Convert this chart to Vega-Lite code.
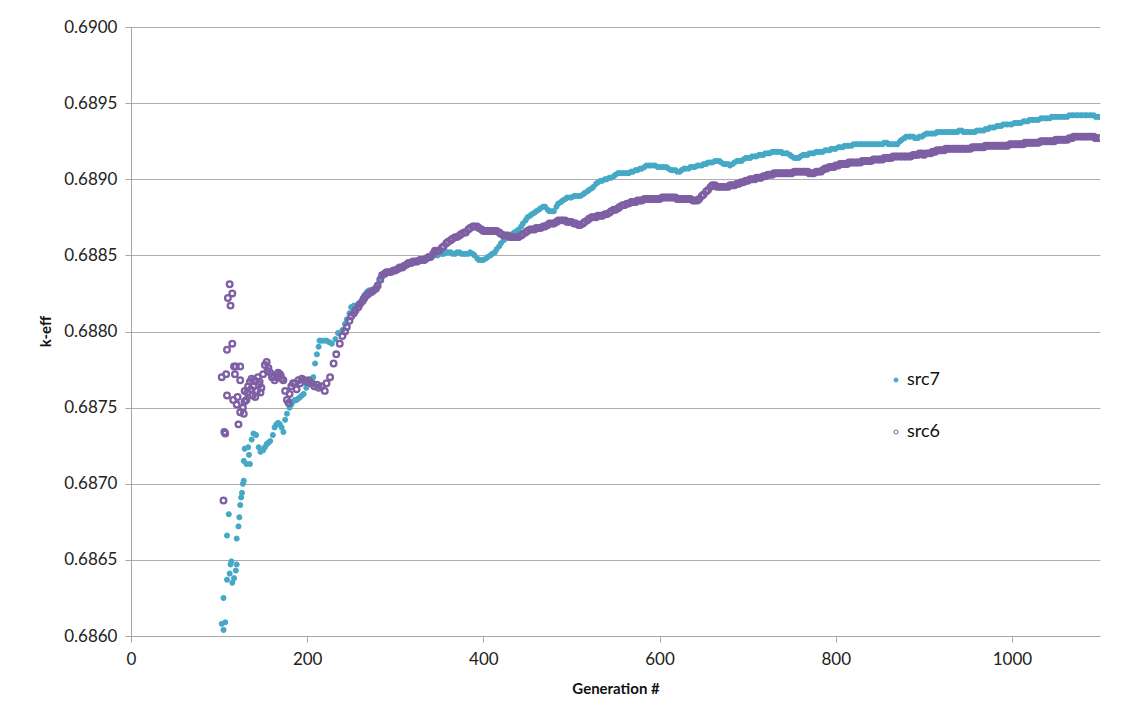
{
  "$schema": "https://vega.github.io/schema/vega-lite/v6.json",
  "width": 969,
  "height": 609,
  "autosize": {"type": "none"},
  "padding": {"left": 131, "top": 27, "right": 29, "bottom": 85},
  "background": "white",
  "config": {
    "font": "Lato",
    "view": {"stroke": null},
    "axis": {
      "labelFont": "Lato",
      "labelFontSize": 17,
      "labelColor": "#222222",
      "titleFont": "Lato",
      "titleFontSize": 15,
      "titleFontWeight": "bold",
      "titleColor": "#111111",
      "domainColor": "#A6A6A6",
      "tickColor": "#A6A6A6",
      "gridColor": "#ADADAD",
      "tickSize": 6
    },
    "legend": {"labelFont": "Lato", "labelFontSize": 18, "labelColor": "#111111", "symbolSize": 16, "symbolStrokeWidth": 1}
  },
  "data": {
    "values": [
      {"gen": 103, "src": "src7", "keff": 0.68608},
      {"gen": 105, "src": "src7", "keff": 0.68604},
      {"gen": 105, "src": "src7", "keff": 0.68625},
      {"gen": 107, "src": "src7", "keff": 0.68609},
      {"gen": 109, "src": "src7", "keff": 0.68637},
      {"gen": 109, "src": "src7", "keff": 0.68666},
      {"gen": 111, "src": "src7", "keff": 0.6868},
      {"gen": 112, "src": "src7", "keff": 0.68641},
      {"gen": 113, "src": "src7", "keff": 0.68647},
      {"gen": 114, "src": "src7", "keff": 0.68649},
      {"gen": 115, "src": "src7", "keff": 0.68635},
      {"gen": 117, "src": "src7", "keff": 0.68638},
      {"gen": 119, "src": "src7", "keff": 0.68643},
      {"gen": 120, "src": "src7", "keff": 0.68647},
      {"gen": 120, "src": "src7", "keff": 0.68664},
      {"gen": 122, "src": "src7", "keff": 0.68672},
      {"gen": 123, "src": "src7", "keff": 0.68678},
      {"gen": 124, "src": "src7", "keff": 0.68686},
      {"gen": 125, "src": "src7", "keff": 0.68691},
      {"gen": 126, "src": "src7", "keff": 0.68694},
      {"gen": 127, "src": "src7", "keff": 0.687},
      {"gen": 128, "src": "src7", "keff": 0.68702},
      {"gen": 128, "src": "src7", "keff": 0.68715},
      {"gen": 129, "src": "src7", "keff": 0.68723},
      {"gen": 131, "src": "src7", "keff": 0.68713},
      {"gen": 133, "src": "src7", "keff": 0.68724},
      {"gen": 134, "src": "src7", "keff": 0.68719},
      {"gen": 135, "src": "src7", "keff": 0.68713},
      {"gen": 137, "src": "src7", "keff": 0.68729},
      {"gen": 139, "src": "src7", "keff": 0.68733},
      {"gen": 142, "src": "src7", "keff": 0.68732},
      {"gen": 145, "src": "src7", "keff": 0.68724},
      {"gen": 147, "src": "src7", "keff": 0.68721},
      {"gen": 150, "src": "src7", "keff": 0.68722},
      {"gen": 152, "src": "src7", "keff": 0.68724},
      {"gen": 154, "src": "src7", "keff": 0.68726},
      {"gen": 156, "src": "src7", "keff": 0.68727},
      {"gen": 158, "src": "src7", "keff": 0.68728},
      {"gen": 161, "src": "src7", "keff": 0.68732},
      {"gen": 163, "src": "src7", "keff": 0.68737},
      {"gen": 165, "src": "src7", "keff": 0.68739},
      {"gen": 167, "src": "src7", "keff": 0.6874},
      {"gen": 169, "src": "src7", "keff": 0.68739},
      {"gen": 171, "src": "src7", "keff": 0.68737},
      {"gen": 173, "src": "src7", "keff": 0.68734},
      {"gen": 175, "src": "src7", "keff": 0.68742},
      {"gen": 177, "src": "src7", "keff": 0.68746},
      {"gen": 180, "src": "src7", "keff": 0.6875},
      {"gen": 182, "src": "src7", "keff": 0.68752},
      {"gen": 184, "src": "src7", "keff": 0.68754},
      {"gen": 186, "src": "src7", "keff": 0.68755},
      {"gen": 188, "src": "src7", "keff": 0.68755},
      {"gen": 190, "src": "src7", "keff": 0.68756},
      {"gen": 192, "src": "src7", "keff": 0.68757},
      {"gen": 194, "src": "src7", "keff": 0.68758},
      {"gen": 196, "src": "src7", "keff": 0.68759},
      {"gen": 199, "src": "src7", "keff": 0.68763},
      {"gen": 201, "src": "src7", "keff": 0.68765},
      {"gen": 203, "src": "src7", "keff": 0.68766},
      {"gen": 205, "src": "src7", "keff": 0.68768},
      {"gen": 207, "src": "src7", "keff": 0.6877},
      {"gen": 209, "src": "src7", "keff": 0.68779},
      {"gen": 211, "src": "src7", "keff": 0.68785},
      {"gen": 213, "src": "src7", "keff": 0.6879},
      {"gen": 214, "src": "src7", "keff": 0.68794},
      {"gen": 216, "src": "src7", "keff": 0.68794},
      {"gen": 219, "src": "src7", "keff": 0.68794},
      {"gen": 222, "src": "src7", "keff": 0.68794},
      {"gen": 225, "src": "src7", "keff": 0.68793},
      {"gen": 228, "src": "src7", "keff": 0.68792},
      {"gen": 232, "src": "src7", "keff": 0.68795},
      {"gen": 235, "src": "src7", "keff": 0.68799},
      {"gen": 240, "src": "src7", "keff": 0.68801},
      {"gen": 243, "src": "src7", "keff": 0.68805},
      {"gen": 245, "src": "src7", "keff": 0.68808},
      {"gen": 248, "src": "src7", "keff": 0.68812},
      {"gen": 250, "src": "src7", "keff": 0.68816},
      {"gen": 253, "src": "src7", "keff": 0.68817},
      {"gen": 255, "src": "src7", "keff": 0.68817},
      {"gen": 258, "src": "src7", "keff": 0.68818},
      {"gen": 260, "src": "src7", "keff": 0.68819},
      {"gen": 263, "src": "src7", "keff": 0.68822},
      {"gen": 265, "src": "src7", "keff": 0.68824},
      {"gen": 268, "src": "src7", "keff": 0.68826},
      {"gen": 270, "src": "src7", "keff": 0.68827},
      {"gen": 273, "src": "src7", "keff": 0.68827},
      {"gen": 275, "src": "src7", "keff": 0.68827},
      {"gen": 278, "src": "src7", "keff": 0.68829},
      {"gen": 280, "src": "src7", "keff": 0.68831},
      {"gen": 283, "src": "src7", "keff": 0.68834},
      {"gen": 285, "src": "src7", "keff": 0.68837},
      {"gen": 288, "src": "src7", "keff": 0.68838},
      {"gen": 290, "src": "src7", "keff": 0.68839},
      {"gen": 293, "src": "src7", "keff": 0.68839},
      {"gen": 295, "src": "src7", "keff": 0.68839},
      {"gen": 298, "src": "src7", "keff": 0.6884},
      {"gen": 300, "src": "src7", "keff": 0.6884},
      {"gen": 303, "src": "src7", "keff": 0.68841},
      {"gen": 305, "src": "src7", "keff": 0.68842},
      {"gen": 308, "src": "src7", "keff": 0.68842},
      {"gen": 310, "src": "src7", "keff": 0.68843},
      {"gen": 313, "src": "src7", "keff": 0.68844},
      {"gen": 315, "src": "src7", "keff": 0.68845},
      {"gen": 318, "src": "src7", "keff": 0.68845},
      {"gen": 320, "src": "src7", "keff": 0.68845},
      {"gen": 323, "src": "src7", "keff": 0.68846},
      {"gen": 325, "src": "src7", "keff": 0.68846},
      {"gen": 328, "src": "src7", "keff": 0.68847},
      {"gen": 330, "src": "src7", "keff": 0.68847},
      {"gen": 333, "src": "src7", "keff": 0.68847},
      {"gen": 335, "src": "src7", "keff": 0.68848},
      {"gen": 338, "src": "src7", "keff": 0.68848},
      {"gen": 340, "src": "src7", "keff": 0.68849},
      {"gen": 343, "src": "src7", "keff": 0.6885},
      {"gen": 345, "src": "src7", "keff": 0.6885},
      {"gen": 348, "src": "src7", "keff": 0.6885},
      {"gen": 350, "src": "src7", "keff": 0.68851},
      {"gen": 353, "src": "src7", "keff": 0.68851},
      {"gen": 355, "src": "src7", "keff": 0.68851},
      {"gen": 358, "src": "src7", "keff": 0.68852},
      {"gen": 360, "src": "src7", "keff": 0.68852},
      {"gen": 363, "src": "src7", "keff": 0.68852},
      {"gen": 365, "src": "src7", "keff": 0.68851},
      {"gen": 368, "src": "src7", "keff": 0.68851},
      {"gen": 370, "src": "src7", "keff": 0.68852},
      {"gen": 373, "src": "src7", "keff": 0.68852},
      {"gen": 375, "src": "src7", "keff": 0.68851},
      {"gen": 378, "src": "src7", "keff": 0.68851},
      {"gen": 380, "src": "src7", "keff": 0.68851},
      {"gen": 383, "src": "src7", "keff": 0.68851},
      {"gen": 385, "src": "src7", "keff": 0.68852},
      {"gen": 388, "src": "src7", "keff": 0.68851},
      {"gen": 390, "src": "src7", "keff": 0.6885},
      {"gen": 393, "src": "src7", "keff": 0.68848},
      {"gen": 395, "src": "src7", "keff": 0.68847},
      {"gen": 398, "src": "src7", "keff": 0.68847},
      {"gen": 400, "src": "src7", "keff": 0.68847},
      {"gen": 403, "src": "src7", "keff": 0.68848},
      {"gen": 405, "src": "src7", "keff": 0.68849},
      {"gen": 408, "src": "src7", "keff": 0.6885},
      {"gen": 410, "src": "src7", "keff": 0.68851},
      {"gen": 413, "src": "src7", "keff": 0.68852},
      {"gen": 415, "src": "src7", "keff": 0.68854},
      {"gen": 418, "src": "src7", "keff": 0.68856},
      {"gen": 420, "src": "src7", "keff": 0.68858},
      {"gen": 423, "src": "src7", "keff": 0.6886},
      {"gen": 425, "src": "src7", "keff": 0.68861},
      {"gen": 428, "src": "src7", "keff": 0.68862},
      {"gen": 430, "src": "src7", "keff": 0.68863},
      {"gen": 433, "src": "src7", "keff": 0.68864},
      {"gen": 435, "src": "src7", "keff": 0.68865},
      {"gen": 438, "src": "src7", "keff": 0.68866},
      {"gen": 440, "src": "src7", "keff": 0.68867},
      {"gen": 443, "src": "src7", "keff": 0.68869},
      {"gen": 445, "src": "src7", "keff": 0.68871},
      {"gen": 448, "src": "src7", "keff": 0.68873},
      {"gen": 450, "src": "src7", "keff": 0.68875},
      {"gen": 453, "src": "src7", "keff": 0.68876},
      {"gen": 455, "src": "src7", "keff": 0.68877},
      {"gen": 458, "src": "src7", "keff": 0.68878},
      {"gen": 460, "src": "src7", "keff": 0.68879},
      {"gen": 463, "src": "src7", "keff": 0.6888},
      {"gen": 465, "src": "src7", "keff": 0.68881},
      {"gen": 468, "src": "src7", "keff": 0.68882},
      {"gen": 470, "src": "src7", "keff": 0.68882},
      {"gen": 473, "src": "src7", "keff": 0.6888},
      {"gen": 475, "src": "src7", "keff": 0.68879},
      {"gen": 478, "src": "src7", "keff": 0.68879},
      {"gen": 480, "src": "src7", "keff": 0.68879},
      {"gen": 483, "src": "src7", "keff": 0.68882},
      {"gen": 485, "src": "src7", "keff": 0.68884},
      {"gen": 488, "src": "src7", "keff": 0.68885},
      {"gen": 490, "src": "src7", "keff": 0.68886},
      {"gen": 493, "src": "src7", "keff": 0.68887},
      {"gen": 495, "src": "src7", "keff": 0.68888},
      {"gen": 498, "src": "src7", "keff": 0.68888},
      {"gen": 500, "src": "src7", "keff": 0.68888},
      {"gen": 503, "src": "src7", "keff": 0.68889},
      {"gen": 505, "src": "src7", "keff": 0.68889},
      {"gen": 508, "src": "src7", "keff": 0.68889},
      {"gen": 510, "src": "src7", "keff": 0.68889},
      {"gen": 513, "src": "src7", "keff": 0.6889},
      {"gen": 515, "src": "src7", "keff": 0.68891},
      {"gen": 518, "src": "src7", "keff": 0.68892},
      {"gen": 520, "src": "src7", "keff": 0.68893},
      {"gen": 523, "src": "src7", "keff": 0.68894},
      {"gen": 525, "src": "src7", "keff": 0.68895},
      {"gen": 528, "src": "src7", "keff": 0.68897},
      {"gen": 530, "src": "src7", "keff": 0.68898},
      {"gen": 533, "src": "src7", "keff": 0.68899},
      {"gen": 535, "src": "src7", "keff": 0.68899},
      {"gen": 538, "src": "src7", "keff": 0.689},
      {"gen": 540, "src": "src7", "keff": 0.689},
      {"gen": 543, "src": "src7", "keff": 0.68901},
      {"gen": 545, "src": "src7", "keff": 0.68901},
      {"gen": 548, "src": "src7", "keff": 0.68902},
      {"gen": 550, "src": "src7", "keff": 0.68903},
      {"gen": 553, "src": "src7", "keff": 0.68904},
      {"gen": 555, "src": "src7", "keff": 0.68904},
      {"gen": 558, "src": "src7", "keff": 0.68904},
      {"gen": 560, "src": "src7", "keff": 0.68904},
      {"gen": 563, "src": "src7", "keff": 0.68904},
      {"gen": 565, "src": "src7", "keff": 0.68904},
      {"gen": 568, "src": "src7", "keff": 0.68905},
      {"gen": 570, "src": "src7", "keff": 0.68905},
      {"gen": 573, "src": "src7", "keff": 0.68906},
      {"gen": 575, "src": "src7", "keff": 0.68906},
      {"gen": 578, "src": "src7", "keff": 0.68907},
      {"gen": 580, "src": "src7", "keff": 0.68907},
      {"gen": 583, "src": "src7", "keff": 0.68908},
      {"gen": 585, "src": "src7", "keff": 0.68909},
      {"gen": 588, "src": "src7", "keff": 0.68909},
      {"gen": 590, "src": "src7", "keff": 0.68909},
      {"gen": 593, "src": "src7", "keff": 0.68909},
      {"gen": 595, "src": "src7", "keff": 0.68909},
      {"gen": 598, "src": "src7", "keff": 0.68908},
      {"gen": 600, "src": "src7", "keff": 0.68908},
      {"gen": 603, "src": "src7", "keff": 0.68908},
      {"gen": 605, "src": "src7", "keff": 0.68908},
      {"gen": 608, "src": "src7", "keff": 0.68908},
      {"gen": 610, "src": "src7", "keff": 0.68907},
      {"gen": 613, "src": "src7", "keff": 0.68906},
      {"gen": 615, "src": "src7", "keff": 0.68906},
      {"gen": 618, "src": "src7", "keff": 0.68906},
      {"gen": 620, "src": "src7", "keff": 0.68905},
      {"gen": 623, "src": "src7", "keff": 0.68905},
      {"gen": 625, "src": "src7", "keff": 0.68906},
      {"gen": 628, "src": "src7", "keff": 0.68907},
      {"gen": 630, "src": "src7", "keff": 0.68907},
      {"gen": 633, "src": "src7", "keff": 0.68907},
      {"gen": 635, "src": "src7", "keff": 0.68908},
      {"gen": 638, "src": "src7", "keff": 0.68908},
      {"gen": 640, "src": "src7", "keff": 0.68908},
      {"gen": 643, "src": "src7", "keff": 0.68909},
      {"gen": 645, "src": "src7", "keff": 0.68909},
      {"gen": 648, "src": "src7", "keff": 0.68909},
      {"gen": 650, "src": "src7", "keff": 0.6891},
      {"gen": 653, "src": "src7", "keff": 0.6891},
      {"gen": 655, "src": "src7", "keff": 0.68911},
      {"gen": 658, "src": "src7", "keff": 0.68911},
      {"gen": 660, "src": "src7", "keff": 0.68911},
      {"gen": 663, "src": "src7", "keff": 0.68912},
      {"gen": 665, "src": "src7", "keff": 0.68912},
      {"gen": 668, "src": "src7", "keff": 0.68912},
      {"gen": 670, "src": "src7", "keff": 0.68911},
      {"gen": 673, "src": "src7", "keff": 0.6891},
      {"gen": 675, "src": "src7", "keff": 0.6891},
      {"gen": 678, "src": "src7", "keff": 0.6891},
      {"gen": 680, "src": "src7", "keff": 0.68909},
      {"gen": 683, "src": "src7", "keff": 0.6891},
      {"gen": 685, "src": "src7", "keff": 0.68911},
      {"gen": 688, "src": "src7", "keff": 0.68912},
      {"gen": 690, "src": "src7", "keff": 0.68912},
      {"gen": 693, "src": "src7", "keff": 0.68912},
      {"gen": 695, "src": "src7", "keff": 0.68913},
      {"gen": 698, "src": "src7", "keff": 0.68914},
      {"gen": 700, "src": "src7", "keff": 0.68914},
      {"gen": 703, "src": "src7", "keff": 0.68914},
      {"gen": 705, "src": "src7", "keff": 0.68915},
      {"gen": 708, "src": "src7", "keff": 0.68915},
      {"gen": 710, "src": "src7", "keff": 0.68915},
      {"gen": 713, "src": "src7", "keff": 0.68916},
      {"gen": 715, "src": "src7", "keff": 0.68916},
      {"gen": 718, "src": "src7", "keff": 0.68916},
      {"gen": 720, "src": "src7", "keff": 0.68917},
      {"gen": 723, "src": "src7", "keff": 0.68917},
      {"gen": 725, "src": "src7", "keff": 0.68917},
      {"gen": 728, "src": "src7", "keff": 0.68918},
      {"gen": 730, "src": "src7", "keff": 0.68918},
      {"gen": 733, "src": "src7", "keff": 0.68918},
      {"gen": 735, "src": "src7", "keff": 0.68918},
      {"gen": 738, "src": "src7", "keff": 0.68918},
      {"gen": 740, "src": "src7", "keff": 0.68917},
      {"gen": 743, "src": "src7", "keff": 0.68917},
      {"gen": 745, "src": "src7", "keff": 0.68917},
      {"gen": 748, "src": "src7", "keff": 0.68916},
      {"gen": 750, "src": "src7", "keff": 0.68915},
      {"gen": 753, "src": "src7", "keff": 0.68914},
      {"gen": 755, "src": "src7", "keff": 0.68914},
      {"gen": 758, "src": "src7", "keff": 0.68914},
      {"gen": 760, "src": "src7", "keff": 0.68915},
      {"gen": 763, "src": "src7", "keff": 0.68916},
      {"gen": 765, "src": "src7", "keff": 0.68916},
      {"gen": 768, "src": "src7", "keff": 0.68916},
      {"gen": 770, "src": "src7", "keff": 0.68917},
      {"gen": 773, "src": "src7", "keff": 0.68917},
      {"gen": 775, "src": "src7", "keff": 0.68917},
      {"gen": 778, "src": "src7", "keff": 0.68918},
      {"gen": 780, "src": "src7", "keff": 0.68918},
      {"gen": 783, "src": "src7", "keff": 0.68918},
      {"gen": 785, "src": "src7", "keff": 0.68918},
      {"gen": 788, "src": "src7", "keff": 0.68919},
      {"gen": 790, "src": "src7", "keff": 0.68919},
      {"gen": 793, "src": "src7", "keff": 0.68919},
      {"gen": 795, "src": "src7", "keff": 0.6892},
      {"gen": 798, "src": "src7", "keff": 0.6892},
      {"gen": 800, "src": "src7", "keff": 0.6892},
      {"gen": 803, "src": "src7", "keff": 0.68921},
      {"gen": 805, "src": "src7", "keff": 0.68921},
      {"gen": 808, "src": "src7", "keff": 0.68921},
      {"gen": 810, "src": "src7", "keff": 0.68922},
      {"gen": 813, "src": "src7", "keff": 0.68922},
      {"gen": 815, "src": "src7", "keff": 0.68922},
      {"gen": 818, "src": "src7", "keff": 0.68922},
      {"gen": 820, "src": "src7", "keff": 0.68923},
      {"gen": 823, "src": "src7", "keff": 0.68923},
      {"gen": 825, "src": "src7", "keff": 0.68923},
      {"gen": 828, "src": "src7", "keff": 0.68923},
      {"gen": 830, "src": "src7", "keff": 0.68923},
      {"gen": 833, "src": "src7", "keff": 0.68923},
      {"gen": 835, "src": "src7", "keff": 0.68923},
      {"gen": 838, "src": "src7", "keff": 0.68923},
      {"gen": 840, "src": "src7", "keff": 0.68923},
      {"gen": 843, "src": "src7", "keff": 0.68923},
      {"gen": 845, "src": "src7", "keff": 0.68923},
      {"gen": 848, "src": "src7", "keff": 0.68923},
      {"gen": 850, "src": "src7", "keff": 0.68923},
      {"gen": 853, "src": "src7", "keff": 0.68923},
      {"gen": 855, "src": "src7", "keff": 0.68924},
      {"gen": 858, "src": "src7", "keff": 0.68924},
      {"gen": 860, "src": "src7", "keff": 0.68923},
      {"gen": 863, "src": "src7", "keff": 0.68923},
      {"gen": 865, "src": "src7", "keff": 0.68923},
      {"gen": 868, "src": "src7", "keff": 0.68923},
      {"gen": 870, "src": "src7", "keff": 0.68923},
      {"gen": 873, "src": "src7", "keff": 0.68925},
      {"gen": 875, "src": "src7", "keff": 0.68926},
      {"gen": 878, "src": "src7", "keff": 0.68927},
      {"gen": 880, "src": "src7", "keff": 0.68928},
      {"gen": 883, "src": "src7", "keff": 0.68928},
      {"gen": 885, "src": "src7", "keff": 0.68928},
      {"gen": 888, "src": "src7", "keff": 0.68928},
      {"gen": 890, "src": "src7", "keff": 0.68927},
      {"gen": 893, "src": "src7", "keff": 0.68927},
      {"gen": 895, "src": "src7", "keff": 0.68928},
      {"gen": 898, "src": "src7", "keff": 0.68928},
      {"gen": 900, "src": "src7", "keff": 0.68929},
      {"gen": 903, "src": "src7", "keff": 0.6893},
      {"gen": 905, "src": "src7", "keff": 0.6893},
      {"gen": 908, "src": "src7", "keff": 0.6893},
      {"gen": 910, "src": "src7", "keff": 0.6893},
      {"gen": 913, "src": "src7", "keff": 0.6893},
      {"gen": 915, "src": "src7", "keff": 0.68931},
      {"gen": 918, "src": "src7", "keff": 0.68931},
      {"gen": 920, "src": "src7", "keff": 0.68931},
      {"gen": 923, "src": "src7", "keff": 0.68931},
      {"gen": 925, "src": "src7", "keff": 0.68931},
      {"gen": 928, "src": "src7", "keff": 0.68931},
      {"gen": 930, "src": "src7", "keff": 0.68931},
      {"gen": 933, "src": "src7", "keff": 0.68931},
      {"gen": 935, "src": "src7", "keff": 0.68931},
      {"gen": 938, "src": "src7", "keff": 0.68931},
      {"gen": 940, "src": "src7", "keff": 0.68932},
      {"gen": 943, "src": "src7", "keff": 0.68932},
      {"gen": 945, "src": "src7", "keff": 0.68931},
      {"gen": 948, "src": "src7", "keff": 0.68931},
      {"gen": 950, "src": "src7", "keff": 0.68931},
      {"gen": 953, "src": "src7", "keff": 0.68931},
      {"gen": 955, "src": "src7", "keff": 0.68931},
      {"gen": 958, "src": "src7", "keff": 0.68931},
      {"gen": 960, "src": "src7", "keff": 0.68932},
      {"gen": 963, "src": "src7", "keff": 0.68932},
      {"gen": 965, "src": "src7", "keff": 0.68932},
      {"gen": 968, "src": "src7", "keff": 0.68932},
      {"gen": 970, "src": "src7", "keff": 0.68933},
      {"gen": 973, "src": "src7", "keff": 0.68933},
      {"gen": 975, "src": "src7", "keff": 0.68934},
      {"gen": 978, "src": "src7", "keff": 0.68934},
      {"gen": 980, "src": "src7", "keff": 0.68934},
      {"gen": 983, "src": "src7", "keff": 0.68935},
      {"gen": 985, "src": "src7", "keff": 0.68935},
      {"gen": 988, "src": "src7", "keff": 0.68935},
      {"gen": 990, "src": "src7", "keff": 0.68936},
      {"gen": 993, "src": "src7", "keff": 0.68936},
      {"gen": 995, "src": "src7", "keff": 0.68936},
      {"gen": 998, "src": "src7", "keff": 0.68936},
      {"gen": 1000, "src": "src7", "keff": 0.68936},
      {"gen": 1003, "src": "src7", "keff": 0.68937},
      {"gen": 1005, "src": "src7", "keff": 0.68937},
      {"gen": 1008, "src": "src7", "keff": 0.68937},
      {"gen": 1010, "src": "src7", "keff": 0.68937},
      {"gen": 1013, "src": "src7", "keff": 0.68938},
      {"gen": 1015, "src": "src7", "keff": 0.68938},
      {"gen": 1018, "src": "src7", "keff": 0.68938},
      {"gen": 1020, "src": "src7", "keff": 0.68939},
      {"gen": 1023, "src": "src7", "keff": 0.68939},
      {"gen": 1025, "src": "src7", "keff": 0.68939},
      {"gen": 1028, "src": "src7", "keff": 0.68939},
      {"gen": 1030, "src": "src7", "keff": 0.68939},
      {"gen": 1033, "src": "src7", "keff": 0.6894},
      {"gen": 1035, "src": "src7", "keff": 0.6894},
      {"gen": 1038, "src": "src7", "keff": 0.6894},
      {"gen": 1040, "src": "src7", "keff": 0.6894},
      {"gen": 1043, "src": "src7", "keff": 0.6894},
      {"gen": 1045, "src": "src7", "keff": 0.68941},
      {"gen": 1048, "src": "src7", "keff": 0.68941},
      {"gen": 1050, "src": "src7", "keff": 0.68941},
      {"gen": 1053, "src": "src7", "keff": 0.68941},
      {"gen": 1055, "src": "src7", "keff": 0.68941},
      {"gen": 1058, "src": "src7", "keff": 0.68941},
      {"gen": 1060, "src": "src7", "keff": 0.68941},
      {"gen": 1063, "src": "src7", "keff": 0.68941},
      {"gen": 1065, "src": "src7", "keff": 0.68942},
      {"gen": 1068, "src": "src7", "keff": 0.68942},
      {"gen": 1070, "src": "src7", "keff": 0.68942},
      {"gen": 1073, "src": "src7", "keff": 0.68942},
      {"gen": 1075, "src": "src7", "keff": 0.68942},
      {"gen": 1078, "src": "src7", "keff": 0.68942},
      {"gen": 1080, "src": "src7", "keff": 0.68942},
      {"gen": 1083, "src": "src7", "keff": 0.68942},
      {"gen": 1085, "src": "src7", "keff": 0.68942},
      {"gen": 1088, "src": "src7", "keff": 0.68942},
      {"gen": 1090, "src": "src7", "keff": 0.68942},
      {"gen": 1093, "src": "src7", "keff": 0.68942},
      {"gen": 1095, "src": "src7", "keff": 0.68941},
      {"gen": 1098, "src": "src7", "keff": 0.68941},
      {"gen": 1100, "src": "src7", "keff": 0.68941},
      {"gen": 103, "src": "src6", "keff": 0.6877},
      {"gen": 105, "src": "src6", "keff": 0.68689},
      {"gen": 106, "src": "src6", "keff": 0.68734},
      {"gen": 107, "src": "src6", "keff": 0.68733},
      {"gen": 108, "src": "src6", "keff": 0.68772},
      {"gen": 109, "src": "src6", "keff": 0.68758},
      {"gen": 109, "src": "src6", "keff": 0.68788},
      {"gen": 110, "src": "src6", "keff": 0.68822},
      {"gen": 112, "src": "src6", "keff": 0.68831},
      {"gen": 113, "src": "src6", "keff": 0.68817},
      {"gen": 115, "src": "src6", "keff": 0.68825},
      {"gen": 115, "src": "src6", "keff": 0.68792},
      {"gen": 116, "src": "src6", "keff": 0.68755},
      {"gen": 117, "src": "src6", "keff": 0.68777},
      {"gen": 118, "src": "src6", "keff": 0.68772},
      {"gen": 119, "src": "src6", "keff": 0.68777},
      {"gen": 120, "src": "src6", "keff": 0.68752},
      {"gen": 121, "src": "src6", "keff": 0.68757},
      {"gen": 122, "src": "src6", "keff": 0.68739},
      {"gen": 124, "src": "src6", "keff": 0.68777},
      {"gen": 124, "src": "src6", "keff": 0.68768},
      {"gen": 124, "src": "src6", "keff": 0.68747},
      {"gen": 127, "src": "src6", "keff": 0.6875},
      {"gen": 128, "src": "src6", "keff": 0.68746},
      {"gen": 129, "src": "src6", "keff": 0.68754},
      {"gen": 129, "src": "src6", "keff": 0.68761},
      {"gen": 131, "src": "src6", "keff": 0.68755},
      {"gen": 132, "src": "src6", "keff": 0.6876},
      {"gen": 133, "src": "src6", "keff": 0.68764},
      {"gen": 135, "src": "src6", "keff": 0.68767},
      {"gen": 136, "src": "src6", "keff": 0.68762},
      {"gen": 137, "src": "src6", "keff": 0.68769},
      {"gen": 138, "src": "src6", "keff": 0.68758},
      {"gen": 139, "src": "src6", "keff": 0.68764},
      {"gen": 140, "src": "src6", "keff": 0.68768},
      {"gen": 141, "src": "src6", "keff": 0.68757},
      {"gen": 143, "src": "src6", "keff": 0.68761},
      {"gen": 144, "src": "src6", "keff": 0.6877},
      {"gen": 145, "src": "src6", "keff": 0.68765},
      {"gen": 146, "src": "src6", "keff": 0.68767},
      {"gen": 147, "src": "src6", "keff": 0.6876},
      {"gen": 148, "src": "src6", "keff": 0.68763},
      {"gen": 150, "src": "src6", "keff": 0.68772},
      {"gen": 152, "src": "src6", "keff": 0.68778},
      {"gen": 154, "src": "src6", "keff": 0.6878},
      {"gen": 155, "src": "src6", "keff": 0.68774},
      {"gen": 156, "src": "src6", "keff": 0.68776},
      {"gen": 158, "src": "src6", "keff": 0.68773},
      {"gen": 160, "src": "src6", "keff": 0.6877},
      {"gen": 162, "src": "src6", "keff": 0.68771},
      {"gen": 163, "src": "src6", "keff": 0.68768},
      {"gen": 165, "src": "src6", "keff": 0.6877},
      {"gen": 167, "src": "src6", "keff": 0.68773},
      {"gen": 169, "src": "src6", "keff": 0.68772},
      {"gen": 170, "src": "src6", "keff": 0.68771},
      {"gen": 171, "src": "src6", "keff": 0.68769},
      {"gen": 173, "src": "src6", "keff": 0.68768},
      {"gen": 175, "src": "src6", "keff": 0.68761},
      {"gen": 177, "src": "src6", "keff": 0.68755},
      {"gen": 179, "src": "src6", "keff": 0.68753},
      {"gen": 180, "src": "src6", "keff": 0.68759},
      {"gen": 182, "src": "src6", "keff": 0.68764},
      {"gen": 184, "src": "src6", "keff": 0.68766},
      {"gen": 186, "src": "src6", "keff": 0.68766},
      {"gen": 188, "src": "src6", "keff": 0.68762},
      {"gen": 190, "src": "src6", "keff": 0.68768},
      {"gen": 192, "src": "src6", "keff": 0.68766},
      {"gen": 194, "src": "src6", "keff": 0.68769},
      {"gen": 197, "src": "src6", "keff": 0.68768},
      {"gen": 199, "src": "src6", "keff": 0.68767},
      {"gen": 202, "src": "src6", "keff": 0.68768},
      {"gen": 205, "src": "src6", "keff": 0.68766},
      {"gen": 208, "src": "src6", "keff": 0.68764},
      {"gen": 211, "src": "src6", "keff": 0.68765},
      {"gen": 213, "src": "src6", "keff": 0.68763},
      {"gen": 216, "src": "src6", "keff": 0.68764},
      {"gen": 220, "src": "src6", "keff": 0.68761},
      {"gen": 222, "src": "src6", "keff": 0.68766},
      {"gen": 226, "src": "src6", "keff": 0.6877},
      {"gen": 230, "src": "src6", "keff": 0.68779},
      {"gen": 233, "src": "src6", "keff": 0.68785},
      {"gen": 237, "src": "src6", "keff": 0.68792},
      {"gen": 240, "src": "src6", "keff": 0.68797},
      {"gen": 243, "src": "src6", "keff": 0.688},
      {"gen": 245, "src": "src6", "keff": 0.68803},
      {"gen": 248, "src": "src6", "keff": 0.68807},
      {"gen": 250, "src": "src6", "keff": 0.6881},
      {"gen": 253, "src": "src6", "keff": 0.68812},
      {"gen": 255, "src": "src6", "keff": 0.68814},
      {"gen": 258, "src": "src6", "keff": 0.68816},
      {"gen": 260, "src": "src6", "keff": 0.68818},
      {"gen": 263, "src": "src6", "keff": 0.6882},
      {"gen": 265, "src": "src6", "keff": 0.68822},
      {"gen": 268, "src": "src6", "keff": 0.68824},
      {"gen": 270, "src": "src6", "keff": 0.68825},
      {"gen": 273, "src": "src6", "keff": 0.68826},
      {"gen": 275, "src": "src6", "keff": 0.68827},
      {"gen": 278, "src": "src6", "keff": 0.68828},
      {"gen": 280, "src": "src6", "keff": 0.6883},
      {"gen": 283, "src": "src6", "keff": 0.68834},
      {"gen": 285, "src": "src6", "keff": 0.68837},
      {"gen": 288, "src": "src6", "keff": 0.68838},
      {"gen": 290, "src": "src6", "keff": 0.68839},
      {"gen": 293, "src": "src6", "keff": 0.68839},
      {"gen": 295, "src": "src6", "keff": 0.68839},
      {"gen": 298, "src": "src6", "keff": 0.6884},
      {"gen": 300, "src": "src6", "keff": 0.6884},
      {"gen": 303, "src": "src6", "keff": 0.68841},
      {"gen": 305, "src": "src6", "keff": 0.68842},
      {"gen": 308, "src": "src6", "keff": 0.68842},
      {"gen": 310, "src": "src6", "keff": 0.68843},
      {"gen": 313, "src": "src6", "keff": 0.68844},
      {"gen": 315, "src": "src6", "keff": 0.68845},
      {"gen": 318, "src": "src6", "keff": 0.68845},
      {"gen": 320, "src": "src6", "keff": 0.68846},
      {"gen": 323, "src": "src6", "keff": 0.68846},
      {"gen": 325, "src": "src6", "keff": 0.68846},
      {"gen": 328, "src": "src6", "keff": 0.68847},
      {"gen": 330, "src": "src6", "keff": 0.68847},
      {"gen": 333, "src": "src6", "keff": 0.68847},
      {"gen": 335, "src": "src6", "keff": 0.68848},
      {"gen": 338, "src": "src6", "keff": 0.68849},
      {"gen": 340, "src": "src6", "keff": 0.68849},
      {"gen": 343, "src": "src6", "keff": 0.68851},
      {"gen": 345, "src": "src6", "keff": 0.68853},
      {"gen": 348, "src": "src6", "keff": 0.68853},
      {"gen": 350, "src": "src6", "keff": 0.68853},
      {"gen": 353, "src": "src6", "keff": 0.68855},
      {"gen": 355, "src": "src6", "keff": 0.68856},
      {"gen": 358, "src": "src6", "keff": 0.68858},
      {"gen": 360, "src": "src6", "keff": 0.68859},
      {"gen": 363, "src": "src6", "keff": 0.6886},
      {"gen": 365, "src": "src6", "keff": 0.68861},
      {"gen": 368, "src": "src6", "keff": 0.68862},
      {"gen": 370, "src": "src6", "keff": 0.68862},
      {"gen": 373, "src": "src6", "keff": 0.68863},
      {"gen": 375, "src": "src6", "keff": 0.68864},
      {"gen": 378, "src": "src6", "keff": 0.68865},
      {"gen": 380, "src": "src6", "keff": 0.68865},
      {"gen": 383, "src": "src6", "keff": 0.68867},
      {"gen": 385, "src": "src6", "keff": 0.68868},
      {"gen": 388, "src": "src6", "keff": 0.68869},
      {"gen": 390, "src": "src6", "keff": 0.68869},
      {"gen": 393, "src": "src6", "keff": 0.68869},
      {"gen": 395, "src": "src6", "keff": 0.68868},
      {"gen": 398, "src": "src6", "keff": 0.68867},
      {"gen": 400, "src": "src6", "keff": 0.68866},
      {"gen": 403, "src": "src6", "keff": 0.68866},
      {"gen": 405, "src": "src6", "keff": 0.68866},
      {"gen": 408, "src": "src6", "keff": 0.68866},
      {"gen": 410, "src": "src6", "keff": 0.68866},
      {"gen": 413, "src": "src6", "keff": 0.68866},
      {"gen": 415, "src": "src6", "keff": 0.68866},
      {"gen": 418, "src": "src6", "keff": 0.68865},
      {"gen": 420, "src": "src6", "keff": 0.68864},
      {"gen": 423, "src": "src6", "keff": 0.68863},
      {"gen": 425, "src": "src6", "keff": 0.68863},
      {"gen": 428, "src": "src6", "keff": 0.68863},
      {"gen": 430, "src": "src6", "keff": 0.68862},
      {"gen": 433, "src": "src6", "keff": 0.68862},
      {"gen": 435, "src": "src6", "keff": 0.68862},
      {"gen": 438, "src": "src6", "keff": 0.68862},
      {"gen": 440, "src": "src6", "keff": 0.68862},
      {"gen": 443, "src": "src6", "keff": 0.68863},
      {"gen": 445, "src": "src6", "keff": 0.68864},
      {"gen": 448, "src": "src6", "keff": 0.68865},
      {"gen": 450, "src": "src6", "keff": 0.68866},
      {"gen": 453, "src": "src6", "keff": 0.68867},
      {"gen": 455, "src": "src6", "keff": 0.68867},
      {"gen": 458, "src": "src6", "keff": 0.68867},
      {"gen": 460, "src": "src6", "keff": 0.68868},
      {"gen": 463, "src": "src6", "keff": 0.68868},
      {"gen": 465, "src": "src6", "keff": 0.68868},
      {"gen": 468, "src": "src6", "keff": 0.68869},
      {"gen": 470, "src": "src6", "keff": 0.68869},
      {"gen": 473, "src": "src6", "keff": 0.6887},
      {"gen": 475, "src": "src6", "keff": 0.68871},
      {"gen": 478, "src": "src6", "keff": 0.68871},
      {"gen": 480, "src": "src6", "keff": 0.68871},
      {"gen": 483, "src": "src6", "keff": 0.68872},
      {"gen": 485, "src": "src6", "keff": 0.68873},
      {"gen": 488, "src": "src6", "keff": 0.68873},
      {"gen": 490, "src": "src6", "keff": 0.68873},
      {"gen": 493, "src": "src6", "keff": 0.68873},
      {"gen": 495, "src": "src6", "keff": 0.68872},
      {"gen": 498, "src": "src6", "keff": 0.68872},
      {"gen": 500, "src": "src6", "keff": 0.68872},
      {"gen": 503, "src": "src6", "keff": 0.68871},
      {"gen": 505, "src": "src6", "keff": 0.68871},
      {"gen": 508, "src": "src6", "keff": 0.6887},
      {"gen": 510, "src": "src6", "keff": 0.6887},
      {"gen": 513, "src": "src6", "keff": 0.68871},
      {"gen": 515, "src": "src6", "keff": 0.68872},
      {"gen": 518, "src": "src6", "keff": 0.68873},
      {"gen": 520, "src": "src6", "keff": 0.68874},
      {"gen": 523, "src": "src6", "keff": 0.68875},
      {"gen": 525, "src": "src6", "keff": 0.68875},
      {"gen": 528, "src": "src6", "keff": 0.68875},
      {"gen": 530, "src": "src6", "keff": 0.68876},
      {"gen": 533, "src": "src6", "keff": 0.68876},
      {"gen": 535, "src": "src6", "keff": 0.68876},
      {"gen": 538, "src": "src6", "keff": 0.68877},
      {"gen": 540, "src": "src6", "keff": 0.68877},
      {"gen": 543, "src": "src6", "keff": 0.68878},
      {"gen": 545, "src": "src6", "keff": 0.68879},
      {"gen": 548, "src": "src6", "keff": 0.6888},
      {"gen": 550, "src": "src6", "keff": 0.6888},
      {"gen": 553, "src": "src6", "keff": 0.68881},
      {"gen": 555, "src": "src6", "keff": 0.68882},
      {"gen": 558, "src": "src6", "keff": 0.68883},
      {"gen": 560, "src": "src6", "keff": 0.68883},
      {"gen": 563, "src": "src6", "keff": 0.68884},
      {"gen": 565, "src": "src6", "keff": 0.68884},
      {"gen": 568, "src": "src6", "keff": 0.68885},
      {"gen": 570, "src": "src6", "keff": 0.68885},
      {"gen": 573, "src": "src6", "keff": 0.68885},
      {"gen": 575, "src": "src6", "keff": 0.68886},
      {"gen": 578, "src": "src6", "keff": 0.68886},
      {"gen": 580, "src": "src6", "keff": 0.68886},
      {"gen": 583, "src": "src6", "keff": 0.68887},
      {"gen": 585, "src": "src6", "keff": 0.68887},
      {"gen": 588, "src": "src6", "keff": 0.68887},
      {"gen": 590, "src": "src6", "keff": 0.68887},
      {"gen": 593, "src": "src6", "keff": 0.68887},
      {"gen": 595, "src": "src6", "keff": 0.68887},
      {"gen": 598, "src": "src6", "keff": 0.68887},
      {"gen": 600, "src": "src6", "keff": 0.68887},
      {"gen": 603, "src": "src6", "keff": 0.68888},
      {"gen": 605, "src": "src6", "keff": 0.68888},
      {"gen": 608, "src": "src6", "keff": 0.68888},
      {"gen": 610, "src": "src6", "keff": 0.68888},
      {"gen": 613, "src": "src6", "keff": 0.68888},
      {"gen": 615, "src": "src6", "keff": 0.68888},
      {"gen": 618, "src": "src6", "keff": 0.68888},
      {"gen": 620, "src": "src6", "keff": 0.68887},
      {"gen": 623, "src": "src6", "keff": 0.68887},
      {"gen": 625, "src": "src6", "keff": 0.68887},
      {"gen": 628, "src": "src6", "keff": 0.68887},
      {"gen": 630, "src": "src6", "keff": 0.68887},
      {"gen": 633, "src": "src6", "keff": 0.68887},
      {"gen": 635, "src": "src6", "keff": 0.68887},
      {"gen": 638, "src": "src6", "keff": 0.68886},
      {"gen": 640, "src": "src6", "keff": 0.68886},
      {"gen": 643, "src": "src6", "keff": 0.68886},
      {"gen": 645, "src": "src6", "keff": 0.68887},
      {"gen": 648, "src": "src6", "keff": 0.68889},
      {"gen": 650, "src": "src6", "keff": 0.6889},
      {"gen": 653, "src": "src6", "keff": 0.68892},
      {"gen": 655, "src": "src6", "keff": 0.68893},
      {"gen": 658, "src": "src6", "keff": 0.68895},
      {"gen": 660, "src": "src6", "keff": 0.68896},
      {"gen": 663, "src": "src6", "keff": 0.68896},
      {"gen": 665, "src": "src6", "keff": 0.68895},
      {"gen": 668, "src": "src6", "keff": 0.68895},
      {"gen": 670, "src": "src6", "keff": 0.68895},
      {"gen": 673, "src": "src6", "keff": 0.68895},
      {"gen": 675, "src": "src6", "keff": 0.68895},
      {"gen": 678, "src": "src6", "keff": 0.68895},
      {"gen": 680, "src": "src6", "keff": 0.68896},
      {"gen": 683, "src": "src6", "keff": 0.68896},
      {"gen": 685, "src": "src6", "keff": 0.68896},
      {"gen": 688, "src": "src6", "keff": 0.68897},
      {"gen": 690, "src": "src6", "keff": 0.68897},
      {"gen": 693, "src": "src6", "keff": 0.68898},
      {"gen": 695, "src": "src6", "keff": 0.68898},
      {"gen": 698, "src": "src6", "keff": 0.68899},
      {"gen": 700, "src": "src6", "keff": 0.68899},
      {"gen": 703, "src": "src6", "keff": 0.689},
      {"gen": 705, "src": "src6", "keff": 0.689},
      {"gen": 708, "src": "src6", "keff": 0.689},
      {"gen": 710, "src": "src6", "keff": 0.68901},
      {"gen": 713, "src": "src6", "keff": 0.68901},
      {"gen": 715, "src": "src6", "keff": 0.68901},
      {"gen": 718, "src": "src6", "keff": 0.68902},
      {"gen": 720, "src": "src6", "keff": 0.68902},
      {"gen": 723, "src": "src6", "keff": 0.68903},
      {"gen": 725, "src": "src6", "keff": 0.68903},
      {"gen": 728, "src": "src6", "keff": 0.68903},
      {"gen": 730, "src": "src6", "keff": 0.68904},
      {"gen": 733, "src": "src6", "keff": 0.68904},
      {"gen": 735, "src": "src6", "keff": 0.68904},
      {"gen": 738, "src": "src6", "keff": 0.68904},
      {"gen": 740, "src": "src6", "keff": 0.68904},
      {"gen": 743, "src": "src6", "keff": 0.68904},
      {"gen": 745, "src": "src6", "keff": 0.68904},
      {"gen": 748, "src": "src6", "keff": 0.68904},
      {"gen": 750, "src": "src6", "keff": 0.68904},
      {"gen": 753, "src": "src6", "keff": 0.68905},
      {"gen": 755, "src": "src6", "keff": 0.68905},
      {"gen": 758, "src": "src6", "keff": 0.68905},
      {"gen": 760, "src": "src6", "keff": 0.68905},
      {"gen": 763, "src": "src6", "keff": 0.68905},
      {"gen": 765, "src": "src6", "keff": 0.68905},
      {"gen": 768, "src": "src6", "keff": 0.68905},
      {"gen": 770, "src": "src6", "keff": 0.68904},
      {"gen": 773, "src": "src6", "keff": 0.68904},
      {"gen": 775, "src": "src6", "keff": 0.68904},
      {"gen": 778, "src": "src6", "keff": 0.68905},
      {"gen": 780, "src": "src6", "keff": 0.68905},
      {"gen": 783, "src": "src6", "keff": 0.68905},
      {"gen": 785, "src": "src6", "keff": 0.68906},
      {"gen": 788, "src": "src6", "keff": 0.68907},
      {"gen": 790, "src": "src6", "keff": 0.68907},
      {"gen": 793, "src": "src6", "keff": 0.68908},
      {"gen": 795, "src": "src6", "keff": 0.68908},
      {"gen": 798, "src": "src6", "keff": 0.68908},
      {"gen": 800, "src": "src6", "keff": 0.68909},
      {"gen": 803, "src": "src6", "keff": 0.68909},
      {"gen": 805, "src": "src6", "keff": 0.6891},
      {"gen": 808, "src": "src6", "keff": 0.6891},
      {"gen": 810, "src": "src6", "keff": 0.6891},
      {"gen": 813, "src": "src6", "keff": 0.6891},
      {"gen": 815, "src": "src6", "keff": 0.68911},
      {"gen": 818, "src": "src6", "keff": 0.68911},
      {"gen": 820, "src": "src6", "keff": 0.68911},
      {"gen": 823, "src": "src6", "keff": 0.68911},
      {"gen": 825, "src": "src6", "keff": 0.68911},
      {"gen": 828, "src": "src6", "keff": 0.68911},
      {"gen": 830, "src": "src6", "keff": 0.68912},
      {"gen": 833, "src": "src6", "keff": 0.68912},
      {"gen": 835, "src": "src6", "keff": 0.68912},
      {"gen": 838, "src": "src6", "keff": 0.68912},
      {"gen": 840, "src": "src6", "keff": 0.68912},
      {"gen": 843, "src": "src6", "keff": 0.68913},
      {"gen": 845, "src": "src6", "keff": 0.68913},
      {"gen": 848, "src": "src6", "keff": 0.68913},
      {"gen": 850, "src": "src6", "keff": 0.68913},
      {"gen": 853, "src": "src6", "keff": 0.68913},
      {"gen": 855, "src": "src6", "keff": 0.68914},
      {"gen": 858, "src": "src6", "keff": 0.68914},
      {"gen": 860, "src": "src6", "keff": 0.68914},
      {"gen": 863, "src": "src6", "keff": 0.68914},
      {"gen": 865, "src": "src6", "keff": 0.68915},
      {"gen": 868, "src": "src6", "keff": 0.68915},
      {"gen": 870, "src": "src6", "keff": 0.68915},
      {"gen": 873, "src": "src6", "keff": 0.68915},
      {"gen": 875, "src": "src6", "keff": 0.68915},
      {"gen": 878, "src": "src6", "keff": 0.68915},
      {"gen": 880, "src": "src6", "keff": 0.68915},
      {"gen": 883, "src": "src6", "keff": 0.68915},
      {"gen": 885, "src": "src6", "keff": 0.68915},
      {"gen": 888, "src": "src6", "keff": 0.68916},
      {"gen": 890, "src": "src6", "keff": 0.68916},
      {"gen": 893, "src": "src6", "keff": 0.68916},
      {"gen": 895, "src": "src6", "keff": 0.68917},
      {"gen": 898, "src": "src6", "keff": 0.68917},
      {"gen": 900, "src": "src6", "keff": 0.68916},
      {"gen": 903, "src": "src6", "keff": 0.68917},
      {"gen": 905, "src": "src6", "keff": 0.68917},
      {"gen": 908, "src": "src6", "keff": 0.68917},
      {"gen": 910, "src": "src6", "keff": 0.68918},
      {"gen": 913, "src": "src6", "keff": 0.68918},
      {"gen": 915, "src": "src6", "keff": 0.68919},
      {"gen": 918, "src": "src6", "keff": 0.68919},
      {"gen": 920, "src": "src6", "keff": 0.68919},
      {"gen": 923, "src": "src6", "keff": 0.68919},
      {"gen": 925, "src": "src6", "keff": 0.6892},
      {"gen": 928, "src": "src6", "keff": 0.6892},
      {"gen": 930, "src": "src6", "keff": 0.6892},
      {"gen": 933, "src": "src6", "keff": 0.6892},
      {"gen": 935, "src": "src6", "keff": 0.6892},
      {"gen": 938, "src": "src6", "keff": 0.6892},
      {"gen": 940, "src": "src6", "keff": 0.6892},
      {"gen": 943, "src": "src6", "keff": 0.6892},
      {"gen": 945, "src": "src6", "keff": 0.6892},
      {"gen": 948, "src": "src6", "keff": 0.6892},
      {"gen": 950, "src": "src6", "keff": 0.6892},
      {"gen": 953, "src": "src6", "keff": 0.6892},
      {"gen": 955, "src": "src6", "keff": 0.68921},
      {"gen": 958, "src": "src6", "keff": 0.68921},
      {"gen": 960, "src": "src6", "keff": 0.68921},
      {"gen": 963, "src": "src6", "keff": 0.68921},
      {"gen": 965, "src": "src6", "keff": 0.68921},
      {"gen": 968, "src": "src6", "keff": 0.68921},
      {"gen": 970, "src": "src6", "keff": 0.68922},
      {"gen": 973, "src": "src6", "keff": 0.68922},
      {"gen": 975, "src": "src6", "keff": 0.68922},
      {"gen": 978, "src": "src6", "keff": 0.68922},
      {"gen": 980, "src": "src6", "keff": 0.68922},
      {"gen": 983, "src": "src6", "keff": 0.68922},
      {"gen": 985, "src": "src6", "keff": 0.68922},
      {"gen": 988, "src": "src6", "keff": 0.68922},
      {"gen": 990, "src": "src6", "keff": 0.68922},
      {"gen": 993, "src": "src6", "keff": 0.68922},
      {"gen": 995, "src": "src6", "keff": 0.68922},
      {"gen": 998, "src": "src6", "keff": 0.68923},
      {"gen": 1000, "src": "src6", "keff": 0.68923},
      {"gen": 1003, "src": "src6", "keff": 0.68923},
      {"gen": 1005, "src": "src6", "keff": 0.68923},
      {"gen": 1008, "src": "src6", "keff": 0.68923},
      {"gen": 1010, "src": "src6", "keff": 0.68923},
      {"gen": 1013, "src": "src6", "keff": 0.68923},
      {"gen": 1015, "src": "src6", "keff": 0.68924},
      {"gen": 1018, "src": "src6", "keff": 0.68924},
      {"gen": 1020, "src": "src6", "keff": 0.68924},
      {"gen": 1023, "src": "src6", "keff": 0.68924},
      {"gen": 1025, "src": "src6", "keff": 0.68924},
      {"gen": 1028, "src": "src6", "keff": 0.68924},
      {"gen": 1030, "src": "src6", "keff": 0.68924},
      {"gen": 1033, "src": "src6", "keff": 0.68925},
      {"gen": 1035, "src": "src6", "keff": 0.68925},
      {"gen": 1038, "src": "src6", "keff": 0.68925},
      {"gen": 1040, "src": "src6", "keff": 0.68925},
      {"gen": 1043, "src": "src6", "keff": 0.68925},
      {"gen": 1045, "src": "src6", "keff": 0.68925},
      {"gen": 1048, "src": "src6", "keff": 0.68925},
      {"gen": 1050, "src": "src6", "keff": 0.68926},
      {"gen": 1053, "src": "src6", "keff": 0.68926},
      {"gen": 1055, "src": "src6", "keff": 0.68926},
      {"gen": 1058, "src": "src6", "keff": 0.68926},
      {"gen": 1060, "src": "src6", "keff": 0.68926},
      {"gen": 1063, "src": "src6", "keff": 0.68926},
      {"gen": 1065, "src": "src6", "keff": 0.68927},
      {"gen": 1068, "src": "src6", "keff": 0.68927},
      {"gen": 1070, "src": "src6", "keff": 0.68928},
      {"gen": 1073, "src": "src6", "keff": 0.68928},
      {"gen": 1075, "src": "src6", "keff": 0.68928},
      {"gen": 1078, "src": "src6", "keff": 0.68928},
      {"gen": 1080, "src": "src6", "keff": 0.68928},
      {"gen": 1083, "src": "src6", "keff": 0.68928},
      {"gen": 1085, "src": "src6", "keff": 0.68928},
      {"gen": 1088, "src": "src6", "keff": 0.68928},
      {"gen": 1090, "src": "src6", "keff": 0.68928},
      {"gen": 1093, "src": "src6", "keff": 0.68928},
      {"gen": 1095, "src": "src6", "keff": 0.68927},
      {"gen": 1098, "src": "src6", "keff": 0.68927},
      {"gen": 1100, "src": "src6", "keff": 0.68927}
    ]
  },
  "mark": {"type": "point", "shape": "circle", "opacity": 1, "clip": true},
  "encoding": {
    "x": {
      "field": "gen",
      "type": "quantitative",
      "scale": {"domain": [0, 1100], "nice": false, "zero": false},
      "axis": {
        "values": [0, 200, 400, 600, 800, 1000],
        "format": "d",
        "grid": false,
        "title": "Generation #",
        "labelPadding": 9,
        "titlePadding": 14,
        "labelFlush": false
      }
    },
    "y": {
      "field": "keff",
      "type": "quantitative",
      "scale": {"domain": [0.686, 0.69], "nice": false, "zero": false},
      "axis": {
        "values": [0.686, 0.6865, 0.687, 0.6875, 0.688, 0.6885, 0.689, 0.6895, 0.69],
        "format": ".4f",
        "grid": true,
        "title": "k-eff",
        "labelPadding": 8,
        "titleX": -78,
        "titleY": 304,
        "labelFlush": false
      }
    },
    "fill": {
      "field": "src",
      "type": "nominal",
      "scale": {"domain": ["src7", "src6"], "range": ["#45A9C6", "rgba(255,255,255,0)"]},
      "legend": {
        "title": null,
        "orient": "none",
        "legendX": 756,
        "legendY": 344,
        "rowPadding": 34,
        "labelOffset": 2,
        "padding": 0
      }
    },
    "stroke": {
      "field": "src",
      "type": "nominal",
      "scale": {"domain": ["src7", "src6"], "range": ["#45A9C6", "#7E5FA3"]},
      "legend": {
        "title": null,
        "orient": "none",
        "legendX": 756,
        "legendY": 344,
        "rowPadding": 34,
        "labelOffset": 2,
        "padding": 0
      }
    },
    "size": {
      "condition": {"test": "datum.src === 'src7'", "value": 26},
      "value": 32
    },
    "strokeWidth": {
      "condition": {"test": "datum.src === 'src7'", "value": 1},
      "value": 2.3
    }
  }
}
